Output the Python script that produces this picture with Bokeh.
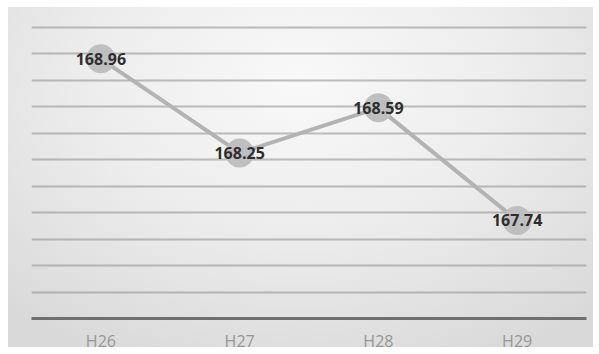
from bokeh.plotting import figure
from bokeh.models import FactorRange, Range1d, FixedTicker, ColumnDataSource
from bokeh.core.properties import value
from bokeh.embed import file_html
from bokeh.resources import INLINE

# Yearly values (Heisei years)
categories = ["H26", "H27", "H28", "H29"]
values = [168.96, 168.25, 168.59, 167.74]
labels = [f"{v:.2f}" for v in values]
grid_levels = [167.2, 167.4, 167.6, 167.8, 168.0, 168.2, 168.4, 168.6, 168.8, 169.0, 169.2]

source = ColumnDataSource(dict(cat=categories, val=values, label=labels))

p = figure(
    width=599, height=354,
    x_range=FactorRange(*categories),
    y_range=Range1d(167.0, 169.34),
    output_backend="svg", toolbar_location=None,
    min_border_left=31, min_border_right=13,
    min_border_top=8, min_border_bottom=36,
)

# soft panel shading behind the transparent canvas
p.styles = {
    "background": "radial-gradient(ellipse 75% 90% at 50% 22%, #f9f9f9 0%, #ececec 50%, #d9d9d9 100%) 8px 7px / 585px 340px no-repeat, #ffffff"
}
p.border_fill_color = None
p.background_fill_color = None
p.outline_line_color = None

# horizontal grid
p.xgrid.visible = False
p.ygrid.ticker = FixedTicker(ticks=grid_levels)
p.ygrid.grid_line_color = "#8c8c8c"
p.ygrid.grid_line_alpha = 0.55
p.ygrid.grid_line_width = 2

p.yaxis.visible = False

ax = p.xaxis[0]
ax.axis_line_color = "#6f6f6f"
ax.axis_line_width = 3
ax.major_tick_line_color = None
ax.minor_tick_line_color = None
ax.major_tick_out = 0
ax.major_tick_in = 0
ax.minor_tick_out = 0
ax.major_label_standoff = 11
ax.major_label_text_font = "Open Sans"
ax.major_label_text_font_size = "16px"
ax.major_label_text_color = "#969696"

p.line(x="cat", y="val", source=source, line_color="#b3b3b3", line_width=4)
p.scatter(x="cat", y="val", source=source, size=29, fill_color="#bfbfbf", line_color=None)
p.text(x="cat", y="val", text="label", source=source,
       text_align="center", text_baseline="middle",
       text_font=value("Open Sans"), text_font_style="bold",
       text_font_size="16px", text_color="#2e2e2e")

open("out.html", "w").write(file_html(p, INLINE))
